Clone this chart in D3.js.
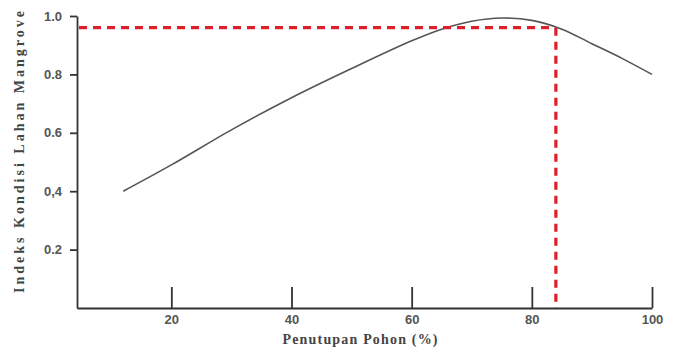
<!DOCTYPE html>
<html>
<head>
<meta charset="utf-8">
<script src="https://cdn.jsdelivr.net/npm/d3@7"></script>
<style>
  body { margin: 0; background: #fff; }
  .tick text { font-family: "Liberation Sans", Arial, sans-serif; font-weight: bold; font-size: 13px; fill: #555; }
</style>
</head>
<body>
<div id="chart"></div>
<script>
// curve
const coverPct = [12, 20, 30, 40, 50, 60, 65, 70, 75, 80, 85, 90, 95, 100];
const indexVal = [0.40, 0.49, 0.61, 0.72, 0.82, 0.915, 0.955, 0.982, 0.993, 0.985, 0.955, 0.905, 0.855, 0.80];
const xTicks = [20, 40, 60, 80, 100];
const yTicks = [0.2, 0.4, 0.6, 0.8, 1.0];
const yTickLabels = ["0.2", "0,4", "0.6", "0.8", "1.0"];
const refPoint = [84, 0.96];

const width = 675, height = 359;
const svg = d3.select("#chart").append("svg")
  .attr("width", width)
  .attr("height", height);

const x = d3.scaleLinear().domain([4.3, 100]).range([77, 652]);
const y = d3.scaleLinear().domain([0, 1]).range([308, 16]);

const data = coverPct.map((c, i) => ({ c: c, v: indexVal[i] }));

// x axis, ticks pointing up
const xAxis = svg.append("g")
  .attr("transform", `translate(0, ${y(0)})`)
  .call(d3.axisBottom(x).tickValues(xTicks).tickSizeInner(-21).tickSizeOuter(0).tickPadding(7));
xAxis.selectAll("line, path").attr("stroke", "#333").attr("stroke-width", 1.8);

// y axis
const yAxis = svg.append("g")
  .attr("transform", `translate(${x(4.3)}, 0)`)
  .call(d3.axisLeft(y).tickValues(yTicks).tickSizeInner(7).tickSizeOuter(0).tickPadding(8)
    .tickFormat((d, i) => yTickLabels[i]));
yAxis.selectAll("line, path").attr("stroke", "#333").attr("stroke-width", 1.8);

// curve
const line = d3.line()
  .x(d => x(d.c))
  .y(d => y(d.v))
  .curve(d3.curveCatmullRom.alpha(0.5));

svg.append("path")
  .datum(data)
  .attr("fill", "none")
  .attr("stroke", "#555")
  .attr("stroke-width", 1.6)
  .attr("d", line);

// reference dashed lines
const dash = svg.append("g")
  .attr("stroke", "#dd1f2b")
  .attr("stroke-width", 3.2)
  .attr("stroke-dasharray", "8,6");
dash.append("line")
  .attr("x1", x(4.3) + 2).attr("x2", x(refPoint[0]))
  .attr("y1", y(refPoint[1])).attr("y2", y(refPoint[1]));
dash.append("line")
  .attr("x1", x(refPoint[0])).attr("x2", x(refPoint[0]))
  .attr("y1", y(refPoint[1])).attr("y2", y(0));

// axis titles
svg.append("text")
  .attr("x", 360).attr("y", 344)
  .attr("text-anchor", "middle")
  .attr("font-family", "Liberation Serif, Times New Roman, serif")
  .attr("font-weight", "bold")
  .attr("font-size", 14)
  .attr("fill", "#444")
  .attr("textLength", 155)
  .text("Penutupan Pohon (%)");

svg.append("text")
  .attr("transform", "translate(24, 152) rotate(-90)")
  .attr("text-anchor", "middle")
  .attr("font-family", "Liberation Serif, Times New Roman, serif")
  .attr("font-weight", "bold")
  .attr("font-size", 14)
  .attr("fill", "#444")
  .attr("textLength", 282)
  .text("Indeks Kondisi Lahan Mangrove");
</script>
</body>
</html>
